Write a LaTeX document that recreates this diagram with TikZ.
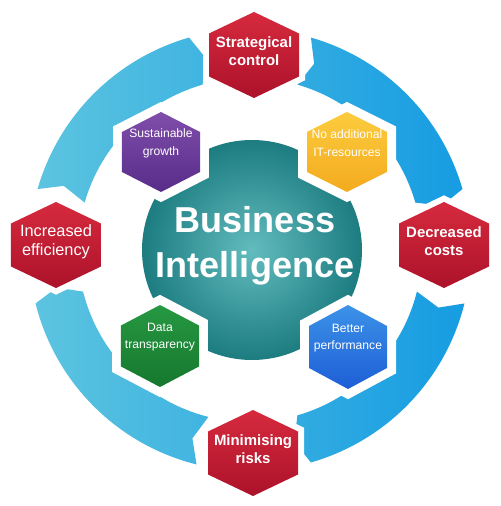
\documentclass[tikz,border=0pt]{standalone}
\usepackage{fontspec}
\setmainfont{Liberation Sans}
\usetikzlibrary{calc}

\definecolor{ringL}{RGB}{92,196,224}
\definecolor{ringR}{RGB}{22,156,226}
\definecolor{tealC}{RGB}{98,188,190}
\definecolor{tealE}{RGB}{28,124,128}
\definecolor{redT}{RGB}{214,42,62}
\definecolor{redB}{RGB}{172,18,42}
\definecolor{purT}{RGB}{128,78,170}
\definecolor{purB}{RGB}{88,44,138}
\definecolor{yelT}{RGB}{252,204,62}
\definecolor{yelB}{RGB}{244,170,30}
\definecolor{grnT}{RGB}{38,152,66}
\definecolor{grnB}{RGB}{22,120,46}
\definecolor{bluT}{RGB}{60,146,232}
\definecolor{bluB}{RGB}{30,94,214}

% hexagon pointed at top and bottom: centre x, centre y, half width, half height
\newcommand\hexpath[4]{(#1,#2+#4) -- (#1+#3,#2+#4/2) -- (#1+#3,#2-#4/2) -- (#1,#2-#4)
  -- (#1-#3,#2-#4/2) -- (#1-#3,#2+#4/2) -- cycle}

\begin{document}
\begin{tikzpicture}[x=0.02cm,y=0.02cm]
  \tikzset{halo/.style={preaction={draw=white,line width=#1}},
           redhex/.style={halo=2.4mm,top color=redT,bottom color=redB},
           innerhex/.style={halo=3.6mm},
           redtext/.style={text=white,align=center,yshift=2,
                           font=\bfseries\fontsize{8.5}{10.2}\selectfont},
           innertext/.style={text=white,align=center,yshift=5,
                             font=\fontsize{6.9}{10}\selectfont}}
  \useasboundingbox (-250,-256) rectangle (250,250);

  % ring of four chevron arcs
  \shade[left color=ringL,right color=ringR]
    \foreach \s/\e in {164/106,74/16,-14/-74,-104/-166} {
      (\s:221) arc[start angle=\s,end angle=\e,radius=221] -- ({\e-3}:197)
      -- (\e:172) arc[start angle=\e,end angle=\s,radius=172] -- ({\s-3}:197) -- cycle
    };

  % centre disc
  \shade[inner color=tealC,outer color=tealE] (2,0) circle[radius=110];
  \node[text=white,align=center,font=\bfseries\fontsize{20.5}{25.6}\selectfont]
    (bi) at (5,4) {Business\\Intelligence};

  % inner hexagons
  \shade[innerhex,top color=purT,bottom color=purB] \hexpath{-89}{98}{39}{40};
  \node[innertext] (growth) at (-89,98) {Sustainable\\growth};
  \shade[innerhex,top color=yelT,bottom color=yelB] \hexpath{97}{98}{40}{40};
  \node[innertext] (itres) at (97,98) {No additional\\IT-resources};
  \shade[innerhex,top color=grnT,bottom color=grnB] \hexpath{-90}{-96}{39}{41};
  \node[innertext] (transp) at (-90,-96) {Data\\transparency};
  \shade[innerhex,top color=bluT,bottom color=bluB] \hexpath{98}{-97}{39}{42};
  \node[innertext] (perf) at (98,-97) {Better\\performance};

  % outer hexagons
  \shade[redhex] \hexpath{4}{195}{45}{43};
  \node[redtext] (control) at (4,195) {Strategical\\control};
  \shade[redhex] \hexpath{194}{5}{45}{43};
  \node[redtext] (costs) at (194,5) {Decreased\\costs};
  \shade[redhex] \hexpath{3}{-203}{45}{43};
  \node[redtext] (risks) at (3,-203) {Minimising\\risks};
  \shade[redhex] \hexpath{-194}{5}{45}{43};
  \node[redtext,font=\fontsize{9.3}{10.6}\selectfont] (effic) at (-194,5) {Increased\\efficiency};
\end{tikzpicture}
\end{document}
